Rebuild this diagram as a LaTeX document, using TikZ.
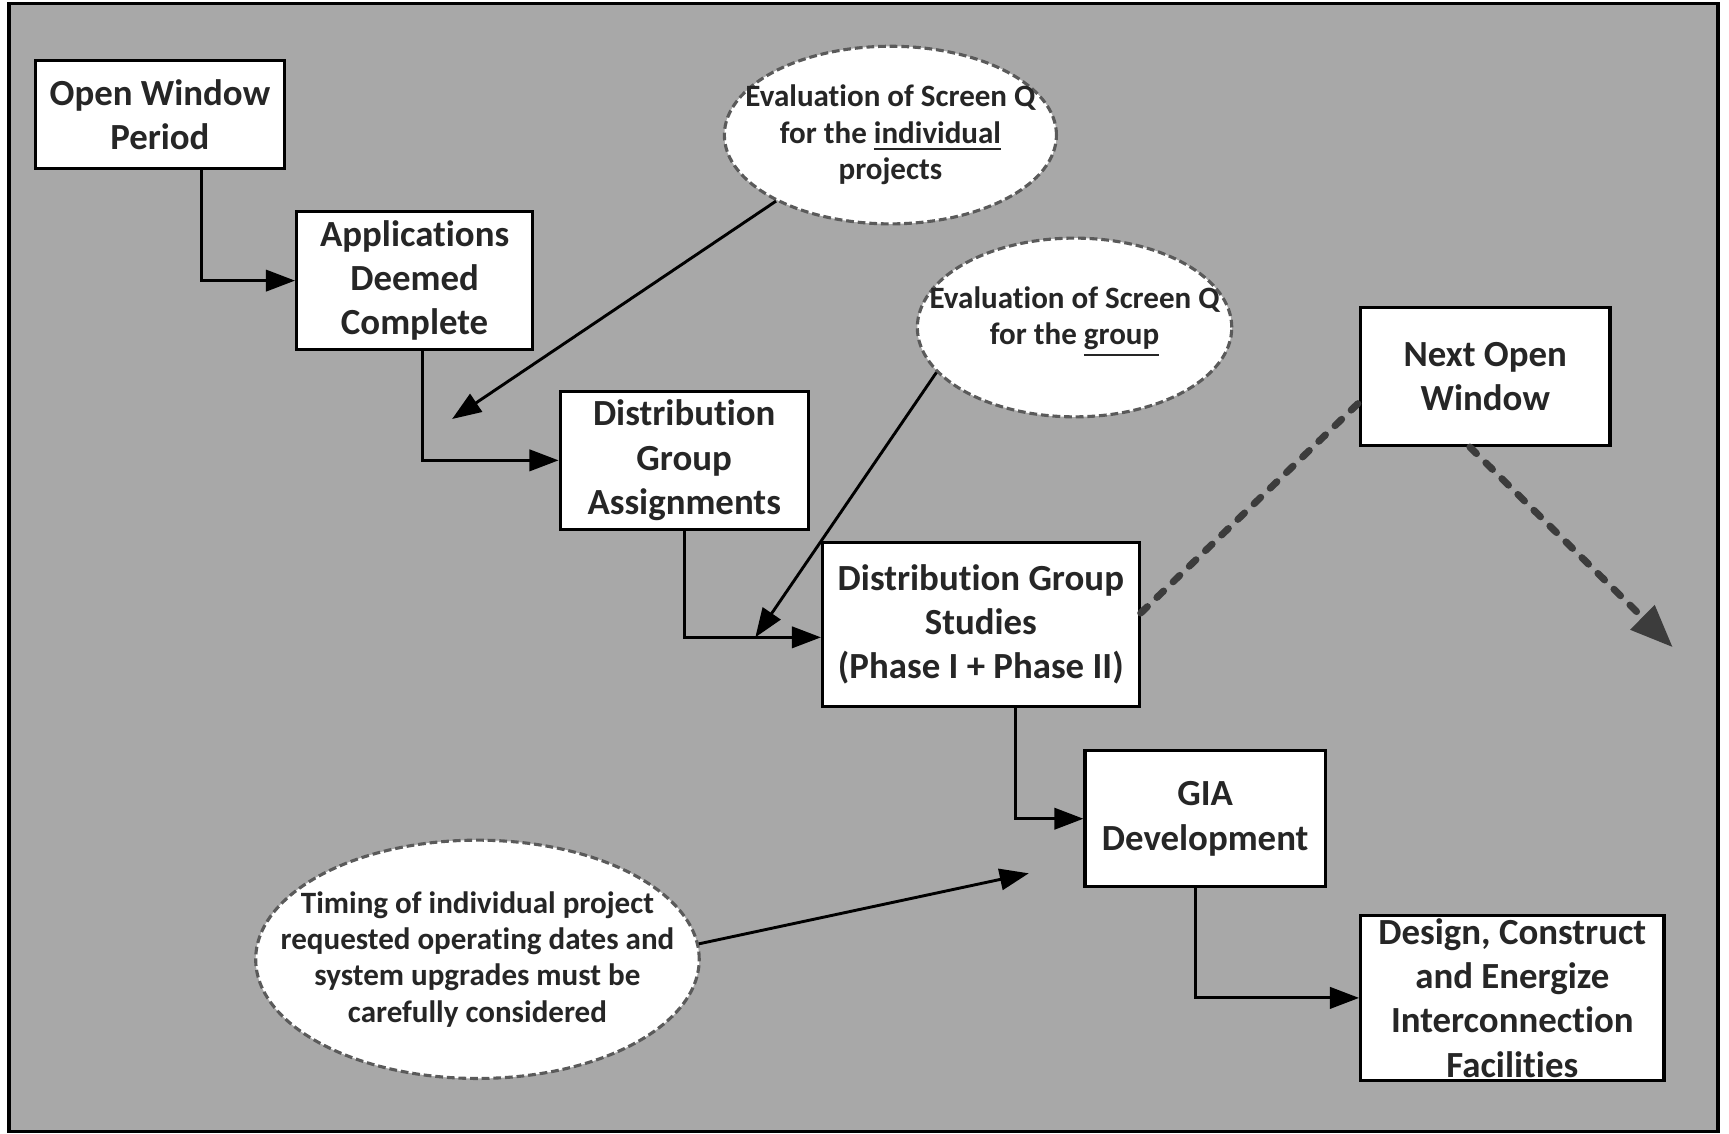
\documentclass[tikz,border=0pt]{standalone}
\usepackage{fontspec}
\setmainfont{Carlito}[Ligatures={NoCommon,NoContextual},Contextuals=NoAlternate]
\usetikzlibrary{arrows.meta,shapes.geometric}
\definecolor{bggray}{RGB}{168,168,168}
\definecolor{txt}{RGB}{38,38,38}
\definecolor{dashc}{RGB}{60,60,60}
\definecolor{ellc}{RGB}{90,90,90}
\begin{document}
\begin{tikzpicture}[x=0.01cm,y=-0.01cm,
  box/.style={draw=black, line width=0.8pt, fill=white, rectangle, inner sep=0pt,
    align=center, font=\fontsize{9.5}{11.4}\selectfont\bfseries, text=txt},
  ell/.style={draw=ellc, dash pattern=on 2pt off 1pt, line width=0.8pt, fill=white, ellipse, inner sep=0pt},
  etext/.style={align=center, font=\fontsize{8}{9.4}\selectfont\bfseries, text=txt, inner sep=0pt},
  arr/.style={draw=black, line width=0.75pt, -{Triangle[length=7.5pt,width=5.5pt]}},
  darr/.style={draw=dashc, line width=1.8pt, dash pattern=on 2.4pt off 3.4pt, line cap=round}
]
\useasboundingbox (0,0) rectangle (1568,1028);
\fill[white] (0,0) rectangle (1568,1028);
\draw[line width=0.9pt, fill=bggray] (8,3) rectangle (1558,1026);

% boxes
\node[box, minimum width=2.26cm, minimum height=0.98cm] (owp) at (145,104) {Open Window\\Period};
\node[box, minimum width=2.14cm, minimum height=1.25cm] (adc) at (376,254.5) {Applications\\Deemed\\Complete};
\node[box, minimum width=2.25cm, minimum height=1.25cm] (dga) at (620.5,417.5) {Distribution\\Group\\Assignments};
\node[box, minimum width=2.87cm, minimum height=1.49cm] (dgs) at (889.5,566.5) {Distribution Group\\Studies\\(Phase I + Phase II)};
\node[box, minimum width=2.18cm, minimum height=1.23cm] (gia) at (1093,742.5) {GIA\\Development};
\node[box, minimum width=2.75cm, minimum height=1.50cm] (dcef) at (1371.5,905) {Design, Construct\\and Energize\\Interconnection\\Facilities};
\node[box, minimum width=2.26cm, minimum height=1.25cm] (now) at (1347,341.5) {Next Open\\Window};

% ellipses
\node[ell, minimum width=3.01cm, minimum height=1.61cm] (e1) at (807.5,122.5) {};
\node[etext] at (e1) {Evaluation of Screen Q\\for the \underline{individual}\\projects};
\node[ell, minimum width=2.85cm, minimum height=1.62cm] (e2) at (974.5,297) {};
\node[etext] at ([yshift=0.05cm]e2.center) {Evaluation of Screen Q\\for the \underline{group}};
\node[ell, minimum width=4.02cm, minimum height=2.16cm] (e3) at (433,870) {};
\node[etext] at (e3) {Timing of individual project\\requested operating dates and\\system upgrades must be\\carefully considered};

% free ends
\coordinate (t1) at (410,380);
\coordinate (t2) at (685,578);
\coordinate (t3) at (933,792);
\coordinate (t4) at (1517,587);

% flow connectors
\draw[arr] ([xshift=0.38cm]owp.south) |- (adc.west);
\draw[arr] ([xshift=0.07cm]adc.south) |- (dga.west);
\draw[arr] (dga.south) |- ([yshift=-0.115cm]dgs.west);
\draw[arr] ([xshift=0.315cm]dgs.south) |- (gia.west);
\draw[arr] ([xshift=-0.09cm]gia.south) |- (dcef.west);

% ellipse connectors
\draw[arr] (e1.210) -- (t1);
\draw[arr] (e2.198) -- (t2);
\draw[arr] (e3.4) -- (t3);

% dashed
\draw[darr] ([yshift=0.105cm]dgs.east) -- ([yshift=-0.235cm]now.west);
\draw[darr, -{Triangle[length=11pt,width=8.5pt]}] ([xshift=-0.14cm]now.south) -- (t4);
\end{tikzpicture}
\end{document}
